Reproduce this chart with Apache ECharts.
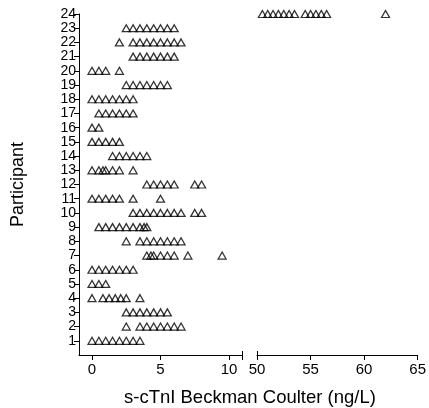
<!DOCTYPE html>
<html>
<head>
<meta charset="utf-8">
<script src="https://cdn.jsdelivr.net/npm/echarts@6/dist/echarts.min.js"></script>
<style>
  html, body { margin: 0; padding: 0; background: #fff; }
  #container { width: 429px; height: 408px; }
</style>
</head>
<body>
<div id="container"></div>
<script>
// readings per participant (ng/L)
var participants = [1, 2, 3, 4, 5, 6, 7, 8, 9, 10, 11, 12, 13, 14, 15, 16, 17, 18, 19, 20, 21, 22, 23, 24];
var p1 = [0, 0.5, 1, 1.5, 2, 2.5, 3, 3.5];
var p2 = [2.5, 3.5, 4, 4.5, 5, 5.5, 6, 6.5];
var p3 = [2.5, 3, 3.5, 4, 4.5, 5, 5.5];
var p4 = [0, 0.8, 1.25, 1.7, 2.1, 2.5, 3.5];
var p5 = [0, 0.5, 1];
var p6 = [0, 0.5, 1, 1.5, 2, 2.5, 3];
var p7 = [4, 4.3, 4.5, 5, 5.5, 6, 7, 9.5];
var p8 = [2.5, 3.5, 4, 4.5, 5, 5.5, 6, 6.5];
var p9 = [0.5, 1, 1.5, 2, 2.5, 3, 3.5, 3.8, 4];
var p10 = [3, 3.5, 4, 4.5, 5, 5.5, 6, 6.5, 7.5, 8];
var p11 = [0, 0.5, 1, 1.5, 2, 3, 5];
var p12 = [4, 4.5, 5, 5.5, 6, 7.5, 8];
var p13 = [0, 0.5, 0.8, 1, 1.5, 2, 3];
var p14 = [1.5, 2, 2.5, 3, 3.5, 4];
var p15 = [0, 0.5, 1, 1.5, 2];
var p16 = [0, 0.5];
var p17 = [0.5, 1, 1.5, 2, 2.5, 3];
var p18 = [0, 0.5, 1, 1.5, 2, 2.5, 3];
var p19 = [2.5, 3, 3.5, 4, 4.5, 5, 5.5];
var p20 = [0, 0.5, 1, 2];
var p21 = [3, 3.5, 4, 4.5, 5, 5.5, 6];
var p22 = [2, 3, 3.5, 4, 4.5, 5, 5.5, 6, 6.5];
var p23 = [2.5, 3, 3.5, 4, 4.5, 5, 5.5, 6];
var p24 = [50.5, 51, 51.5, 52, 52.5, 53, 53.5, 54.5, 55, 55.5, 56, 56.5, 62];
var readings = [p1, p2, p3, p4, p5, p6, p7, p8, p9, p10, p11, p12,
  p13, p14, p15, p16, p17, p18, p19, p20, p21, p22, p23, p24];

var lowTicks = [0, 5, 10];
var highTicks = [50, 55, 60, 65];
var lowMin = -0.95, lowMax = 10.95;
var highMin = 50, highMax = 65;

var lowData = [], highData = [];
participants.forEach(function (p, i) {
  readings[i].forEach(function (v) {
    if (v <= lowMax) lowData.push([v, p]);
    else highData.push([v, p]);
  });
});

var font = 'Liberation Sans, Arial, sans-serif';

var dom = document.getElementById('container');
var myChart = echarts.init(dom, null, { renderer: 'canvas' });

var marker = {
  symbol: 'triangle',
  symbolSize: [8, 7],
  itemStyle: { color: 'rgba(0,0,0,0)', borderColor: '#000', borderWidth: 1.25 }
};

var axisBase = {
  type: 'value',
  axisLine: { show: true, onZero: false, lineStyle: { color: '#000', width: 1 } },
  splitLine: { show: false },
  axisLabel: { color: '#000', fontFamily: font, fontSize: 15, margin: 7 }
};

var option = {
  animation: false,
  backgroundColor: '#fff',
  grid: [
    { left: 79, top: 14, width: 163, height: 341 },
    { left: 257, top: 14, width: 162, height: 341 }
  ],
  xAxis: [
    Object.assign({}, axisBase, {
      gridIndex: 0, min: lowMin, max: lowMax,
      axisTick: { show: true, length: 5, customValues: lowTicks.concat([lowMax]), lineStyle: { color: '#000' } },
      axisLabel: Object.assign({}, axisBase.axisLabel, { customValues: lowTicks })
    }),
    Object.assign({}, axisBase, {
      gridIndex: 1, min: highMin, max: highMax,
      axisTick: { show: true, length: 5, customValues: highTicks, lineStyle: { color: '#000' } },
      axisLabel: Object.assign({}, axisBase.axisLabel, { customValues: highTicks })
    }),
    // break caps (inner half of the crossing ticks)
    {
      type: 'value', gridIndex: 0, min: lowMin, max: lowMax, position: 'bottom',
      axisLine: { show: false, onZero: false }, splitLine: { show: false }, axisLabel: { show: false },
      axisTick: { show: true, inside: true, length: 4, customValues: [lowMax], lineStyle: { color: '#000' } }
    },
    {
      type: 'value', gridIndex: 1, min: highMin, max: highMax, position: 'bottom',
      axisLine: { show: false, onZero: false }, splitLine: { show: false }, axisLabel: { show: false },
      axisTick: { show: true, inside: true, length: 4, customValues: [highMin], lineStyle: { color: '#000' } }
    }
  ],
  yAxis: [
    Object.assign({}, axisBase, {
      gridIndex: 0, min: 0, max: 24,
      name: 'Participant', nameLocation: 'middle', nameGap: 52,
      nameTextStyle: { color: '#000', fontFamily: font, fontSize: 18 },
      axisTick: { show: true, length: 5, customValues: participants, lineStyle: { color: '#000' } },
      axisLabel: Object.assign({}, axisBase.axisLabel, { customValues: participants, margin: 3, fontSize: 14 })
    }),
    { type: 'value', gridIndex: 1, min: 0, max: 24, show: false }
  ],
  graphic: [
    {
      type: 'text', left: 124, top: 388,
      style: { text: 's-cTnI Beckman Coulter (ng/L)', fill: '#000', font: '18.5px ' + font }
    }
  ],
  series: [
    Object.assign({ type: 'scatter', xAxisIndex: 0, yAxisIndex: 0, data: lowData }, marker),
    Object.assign({ type: 'scatter', xAxisIndex: 1, yAxisIndex: 1, data: highData }, marker)
  ]
};

myChart.setOption(option);
window.addEventListener('resize', myChart.resize);
</script>
</body>
</html>
